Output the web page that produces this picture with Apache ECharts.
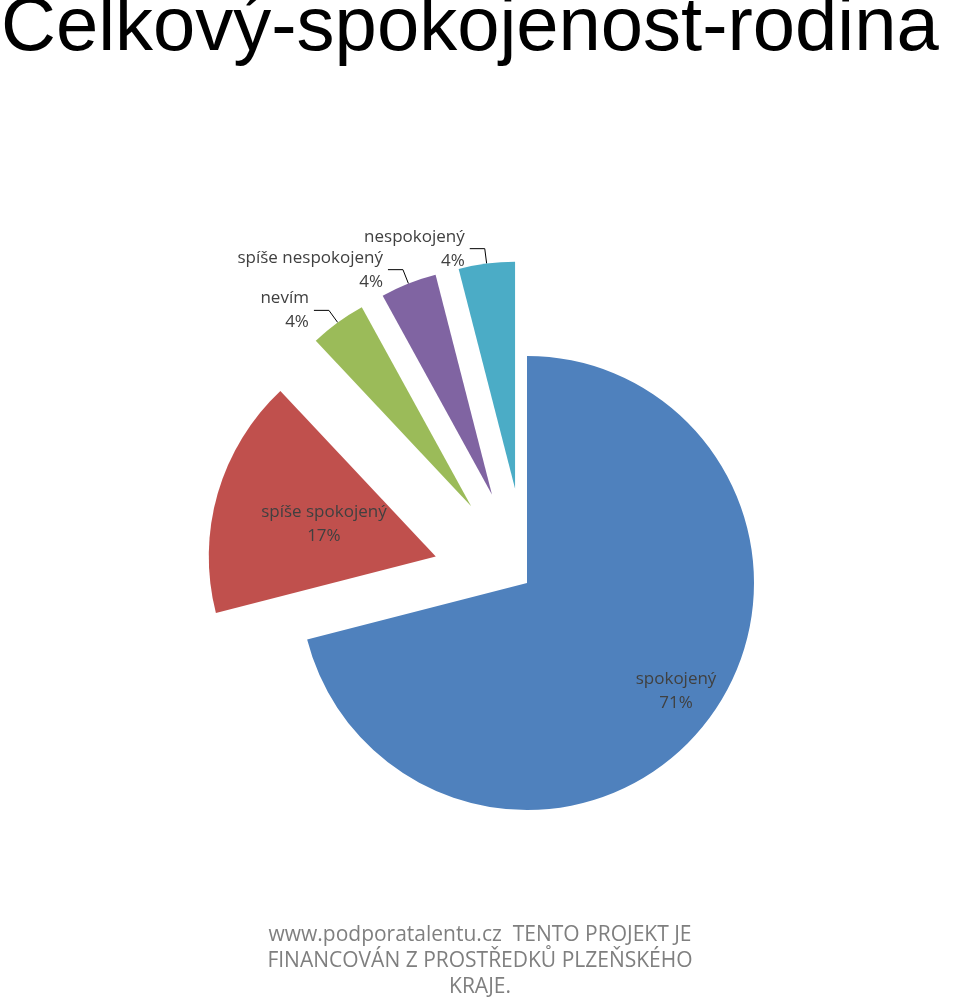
<!DOCTYPE html><html><head><meta charset="utf-8">
<script src="https://cdn.jsdelivr.net/npm/echarts@6/dist/echarts.min.js"></script>
<style>body{margin:0}#c{width:960px;height:998px}</style></head><body><div id="c"></div><script>
const categories=["spokojený","spíše spokojený","nevím","spíše nespokojený","nespokojený"];
const values=[71,17,4,4,4];
const colors=["#4F81BD","#C0504D","#9BBB59","#8064A2","#4BACC6"];
const inside=[true,true,false,false,false];
const chart=echarts.init(document.getElementById('c'));
chart.setOption({
 animation:false,
 title:{text:"Celkový-spokojenost-rodina",left:-4,top:-14,textStyle:{fontFamily:"Liberation Sans",fontSize:76,fontWeight:"normal",color:"#000"}},
 graphic:[{type:"text",left:"center",top:922,style:{text:"www.podporatalentu.cz  TENTO PROJEKT JE\nFINANCOVÁN Z PROSTŘEDKŮ PLZEŇSKÉHO\nKRAJE.",textAlign:"center",font:"21px Open Sans",fill:"#7f7f7f",lineHeight:26}}],
 series:[{type:"pie",center:[527,583],radius:[0,227],startAngle:90,selectedMode:"multiple",selectedOffset:95,avoidLabelOverlap:false,
  labelLayout:{hideOverlap:false},
  labelLine:{lineStyle:{color:"#000"},length:15,length2:15},
  data:categories.map((n,i)=>({name:n,value:values[i],selected:i>0,itemStyle:{color:colors[i]},
   label:{position:inside[i]?"inside":"outside",formatter:"{b}\n{d}%",fontSize:17,color:"#404040",fontFamily:"Open Sans",lineHeight:24,align:"center",
    offset:i==0?[57,37]:i==1?[-48,-13]:i==2?[0,-15]:i==3?[-30,-35]:[40,-10]}}))
 }]
});
</script></body></html>
